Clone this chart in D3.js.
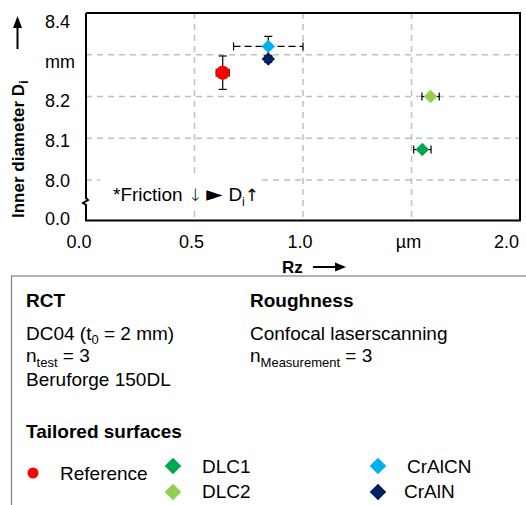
<!DOCTYPE html>
<html><head><meta charset="utf-8">
<script src="https://cdn.jsdelivr.net/npm/d3@7"></script>
<style>
html,body{margin:0;padding:0;background:#fff;}
svg{display:block;font-family:"Liberation Sans",Arial,sans-serif;}
</style></head>
<body>
<svg id="c" width="526" height="505"></svg>
<script>
// ---- data ----
const series = ["Reference", "DLC1", "DLC2", "CrAlCN", "CrAlN"];
const rzValues = [0.63, 1.55, 1.588, 0.84, 0.84];
const rzErrors = [0.03, 0.04, 0.04, 0.16, 0.01];
const diValues = [8.257, 8.073, 8.20, 8.32, 8.29];
const diErrors = [0.04, 0, 0, 0.024, 0.008];
const seriesColors = ["#FF0000", "#00A651", "#92D050", "#00B0F0", "#002060"];
const seriesShapes = ["circle", "diamond", "diamond", "diamond", "diamond"];
const xTicks = [0, 0.5, 1.0, 1.5, 2.0];
const xTickLabels = ["0.0", "0.5", "1.0", "µm", "2.0"];
const yTicks = [0, 8.0, 8.1, 8.2, 8.3, 8.4];
const yTickLabels = ["0.0", "8.0", "8.1", "8.2", "mm", "8.4"];

const svg = d3.select("#c");
const L = 86, R = 520, T = 13, B = 220.5, BREAK = 180;
const x = d3.scaleLinear().domain([0, 2]).range([L, R]);
const y = d3.scaleLinear().domain([0, 8.0, 8.4]).range([B, BREAK, T]);

// gridlines
const grid = svg.append("g").attr("stroke", "#BFBFBF").attr("stroke-width", 1.5).attr("stroke-dasharray", "6,5");
xTicks.filter(v => v > 0 && v < 2).forEach(v => {
  grid.append("line").attr("x1", x(v)).attr("x2", x(v)).attr("y1", T).attr("y2", B);
});
yTicks.filter(v => v >= 8.0 && v < 8.4).forEach(v => {
  grid.append("line").attr("x1", L).attr("x2", R).attr("y1", y(v)).attr("y2", y(v));
});

// annotation box
svg.append("rect").attr("x", 100).attr("y", 176).attr("width", 162).attr("height", 35).attr("fill", "#fff");
const ann = svg.append("text").attr("x", 113).attr("y", 201).attr("font-size", 19).attr("fill", "#000");
ann.append("tspan").text("*Friction ");
ann.append("tspan").attr("font-family", "DejaVu Sans").attr("font-size", 17).attr("font-weight", 300).text("↓");
ann.append("tspan").attr("font-family", "DejaVu Sans").attr("font-size", 21).attr("dx", 4).text("►");
ann.append("tspan").attr("dx", 6).text("D");
ann.append("tspan").attr("font-size", 12).attr("dy", 5).text("i");
ann.append("tspan").attr("font-family", "DejaVu Sans").attr("font-size", 17).attr("dy", -5).text("↑");

// frame with axis break
svg.append("path")
  .attr("d", `M${L},${T} H${R} V${B} H${L} V205 L83,203 L88,200 L86,198 V${T}`)
  .attr("fill", "none").attr("stroke", "#000").attr("stroke-width", 2);

// tick labels
svg.append("g").attr("font-size", 18).attr("fill", "#000")
  .selectAll("text").data(yTicks).join("text")
  .attr("x", 45)
  .attr("y", d => BREAK + (y(d) - BREAK) * 0.95 + 6.5)
  .text((d, i) => yTickLabels[i]);
svg.append("g").attr("font-size", 18).attr("fill", "#000")
  .selectAll("text").data(xTicks).join("text")
  .attr("x", (d, i) => i === xTicks.length - 1 ? x(d) - 1 : x(d) - (i === 0 ? 7 : 3))
  .attr("y", 247.5)
  .attr("text-anchor", (d, i) => i === xTicks.length - 1 ? "end" : "middle")
  .text((d, i) => xTickLabels[i]);

// axis titles
const yt = svg.append("text").attr("transform", "translate(23.5,218) rotate(-90)")
  .attr("font-size", 17).attr("font-weight", "bold").attr("fill", "#000");
yt.append("tspan").text("Inner diameter D");
yt.append("tspan").attr("font-size", 12).attr("dy", 4).text("i");
svg.append("line").attr("x1", 17.5).attr("x2", 17.5).attr("y1", 49).attr("y2", 26).attr("stroke", "#000").attr("stroke-width", 2);
svg.append("path").attr("d", "M17.5,16 L22,28 L13,28 Z").attr("fill", "#000");

svg.append("text").attr("x", 282).attr("y", 273).attr("font-size", 17).attr("font-weight", "bold").text("Rz");
svg.append("line").attr("x1", 313).attr("x2", 336).attr("y1", 267).attr("y2", 267).attr("stroke", "#000").attr("stroke-width", 2);
svg.append("path").attr("d", "M346,267 L335,262.5 L335,271.5 Z").attr("fill", "#000");

// error bars
const eb = svg.append("g").attr("stroke", "#000").attr("stroke-width", 1.2);
const order = [0, 1, 2, 4, 3];
order.forEach(i => {
  const cx = x(rzValues[i]), cy = y(diValues[i]);
  const dash = series[i] === "CrAlCN" ? "7,4" : null;
  if (rzErrors[i] > 0) {
    const x0 = x(rzValues[i] - rzErrors[i]), x1 = x(rzValues[i] + rzErrors[i]);
    eb.append("line").attr("x1", x0).attr("x2", x1).attr("y1", cy).attr("y2", cy).attr("stroke-dasharray", dash);
    [x0, x1].forEach(xx => eb.append("line").attr("x1", xx).attr("x2", xx).attr("y1", cy - 4).attr("y2", cy + 4));
  }
  if (diErrors[i] > 0) {
    const y0 = y(diValues[i] - diErrors[i]), y1 = y(diValues[i] + diErrors[i]);
    eb.append("line").attr("x1", cx).attr("x2", cx).attr("y1", y0).attr("y2", y1);
    [y0, y1].forEach(yy => eb.append("line").attr("x1", cx - 4).attr("x2", cx + 4).attr("y1", yy).attr("y2", yy));
  }
});

// markers
function marker(g, shape, cx, cy, s, color) {
  if (shape === "circle") g.append("circle").attr("cx", cx).attr("cy", cy).attr("r", s).attr("fill", color);
  else g.append("path").attr("d", `M${cx},${cy - s} L${cx + s},${cy} L${cx},${cy + s} L${cx - s},${cy} Z`).attr("fill", color);
}
const mk = svg.append("g");
order.forEach(i => {
  marker(mk, seriesShapes[i], x(rzValues[i]), y(diValues[i]), seriesShapes[i] === "circle" ? 7 : 6.7, seriesColors[i]);
});

// info box
svg.append("rect").attr("x", 11.5).attr("y", 276).attr("width", 530).attr("height", 240)
  .attr("fill", "none").attr("stroke", "#808080").attr("stroke-width", 1.2);
const info = svg.append("g").attr("font-size", 19).attr("fill", "#000");
info.append("text").attr("x", 26).attr("y", 307).attr("font-weight", "bold").text("RCT");
info.append("text").attr("x", 250).attr("y", 307).attr("font-weight", "bold").text("Roughness");
const t1 = info.append("text").attr("x", 26).attr("y", 340);
t1.append("tspan").text("DC04 (t");
t1.append("tspan").attr("font-size", 13).attr("dy", 4).text("0");
t1.append("tspan").attr("dy", -4).text(" = 2 mm)");
const t2 = info.append("text").attr("x", 26).attr("y", 362);
t2.append("tspan").text("n");
t2.append("tspan").attr("font-size", 13).attr("dy", 5).text("test");
t2.append("tspan").attr("dy", -5).text(" = 3");
info.append("text").attr("x", 26).attr("y", 386).text("Beruforge 150DL");
info.append("text").attr("x", 250).attr("y", 340).text("Confocal laserscanning");
const t3 = info.append("text").attr("x", 250).attr("y", 362);
t3.append("tspan").text("n");
t3.append("tspan").attr("font-size", 13).attr("dy", 5).text("Measurement");
t3.append("tspan").attr("dy", -5).text(" = 3");
info.append("text").attr("x", 26).attr("y", 438).attr("font-weight", "bold").text("Tailored surfaces");

// legend
const legPos = [[33, 473, 60, 480], [173, 466, 202, 473], [173, 492, 202, 498], [378, 466, 407, 473], [378, 492, 404, 498]];
series.forEach((s, i) => {
  const p = legPos[i];
  marker(info, seriesShapes[i], p[0], p[1], seriesShapes[i] === "circle" ? 5.5 : 8.3, seriesColors[i]);
  info.append("text").attr("x", p[2]).attr("y", p[3]).text(s);
});
</script>
</body></html>
